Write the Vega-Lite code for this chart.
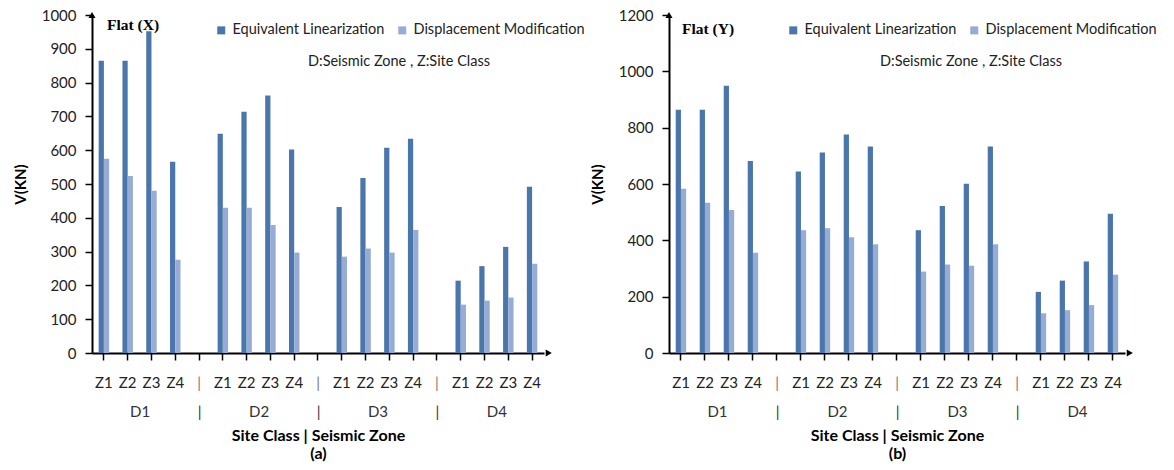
{
  "$schema": "https://vega.github.io/schema/vega-lite/v6.json",
  "padding": {"left": 13, "top": 8, "right": 5, "bottom": 5},
  "background": "white",
  "config": {
    "view": {"stroke": null},
    "axis": {"labelFont": "Lato", "labelFontSize": 15, "labelColor": "#222", "domainColor": "black", "domainWidth": 2, "tickColor": "black", "tickWidth": 1.5, "tickSize": 7, "grid": false, "titleFont": "Lato", "titleFontSize": 15, "titleFontWeight": "bold", "titleColor": "black", "labelOverlap": false},
    "legend": {"labelFont": "Lato", "labelFontSize": 14.5, "labelColor": "#222", "titleFont": "Lato", "titleFontSize": 14.5, "titleFontWeight": "normal", "titleColor": "#222", "titleLimit": 500, "labelLimit": 400},
    "title": {"font": "Liberation Serif", "fontSize": 15.5, "fontWeight": "bold", "color": "black"}
  },
  "datasets": {
    "bars": [
      {"p":"a","slot":"D1|Z1","s":"Equivalent Linearization","v":865},
      {"p":"a","slot":"D1|Z2","s":"Equivalent Linearization","v":865},
      {"p":"a","slot":"D1|Z3","s":"Equivalent Linearization","v":952},
      {"p":"a","slot":"D1|Z4","s":"Equivalent Linearization","v":566},
      {"p":"a","slot":"D2|Z1","s":"Equivalent Linearization","v":649},
      {"p":"a","slot":"D2|Z2","s":"Equivalent Linearization","v":714},
      {"p":"a","slot":"D2|Z3","s":"Equivalent Linearization","v":762},
      {"p":"a","slot":"D2|Z4","s":"Equivalent Linearization","v":602},
      {"p":"a","slot":"D3|Z1","s":"Equivalent Linearization","v":432},
      {"p":"a","slot":"D3|Z2","s":"Equivalent Linearization","v":518},
      {"p":"a","slot":"D3|Z3","s":"Equivalent Linearization","v":607},
      {"p":"a","slot":"D3|Z4","s":"Equivalent Linearization","v":634},
      {"p":"a","slot":"D4|Z1","s":"Equivalent Linearization","v":214},
      {"p":"a","slot":"D4|Z2","s":"Equivalent Linearization","v":257},
      {"p":"a","slot":"D4|Z3","s":"Equivalent Linearization","v":314},
      {"p":"a","slot":"D4|Z4","s":"Equivalent Linearization","v":492},
      {"p":"a","slot":"D1|Z1","s":"Displacement Modification","v":575},
      {"p":"a","slot":"D1|Z2","s":"Displacement Modification","v":524},
      {"p":"a","slot":"D1|Z3","s":"Displacement Modification","v":480},
      {"p":"a","slot":"D1|Z4","s":"Displacement Modification","v":276},
      {"p":"a","slot":"D2|Z1","s":"Displacement Modification","v":430},
      {"p":"a","slot":"D2|Z2","s":"Displacement Modification","v":430},
      {"p":"a","slot":"D2|Z3","s":"Displacement Modification","v":379},
      {"p":"a","slot":"D2|Z4","s":"Displacement Modification","v":297},
      {"p":"a","slot":"D3|Z1","s":"Displacement Modification","v":285},
      {"p":"a","slot":"D3|Z2","s":"Displacement Modification","v":309},
      {"p":"a","slot":"D3|Z3","s":"Displacement Modification","v":297},
      {"p":"a","slot":"D3|Z4","s":"Displacement Modification","v":364},
      {"p":"a","slot":"D4|Z1","s":"Displacement Modification","v":143},
      {"p":"a","slot":"D4|Z2","s":"Displacement Modification","v":155},
      {"p":"a","slot":"D4|Z3","s":"Displacement Modification","v":164},
      {"p":"a","slot":"D4|Z4","s":"Displacement Modification","v":264},
      {"p":"b","slot":"D1|Z1","s":"Equivalent Linearization","v":864},
      {"p":"b","slot":"D1|Z2","s":"Equivalent Linearization","v":864},
      {"p":"b","slot":"D1|Z3","s":"Equivalent Linearization","v":949},
      {"p":"b","slot":"D1|Z4","s":"Equivalent Linearization","v":682},
      {"p":"b","slot":"D2|Z1","s":"Equivalent Linearization","v":644},
      {"p":"b","slot":"D2|Z2","s":"Equivalent Linearization","v":712},
      {"p":"b","slot":"D2|Z3","s":"Equivalent Linearization","v":776},
      {"p":"b","slot":"D2|Z4","s":"Equivalent Linearization","v":733},
      {"p":"b","slot":"D3|Z1","s":"Equivalent Linearization","v":436},
      {"p":"b","slot":"D3|Z2","s":"Equivalent Linearization","v":522},
      {"p":"b","slot":"D3|Z3","s":"Equivalent Linearization","v":601},
      {"p":"b","slot":"D3|Z4","s":"Equivalent Linearization","v":733},
      {"p":"b","slot":"D4|Z1","s":"Equivalent Linearization","v":217},
      {"p":"b","slot":"D4|Z2","s":"Equivalent Linearization","v":257},
      {"p":"b","slot":"D4|Z3","s":"Equivalent Linearization","v":325},
      {"p":"b","slot":"D4|Z4","s":"Equivalent Linearization","v":494},
      {"p":"b","slot":"D1|Z1","s":"Displacement Modification","v":583},
      {"p":"b","slot":"D1|Z2","s":"Displacement Modification","v":533},
      {"p":"b","slot":"D1|Z3","s":"Displacement Modification","v":508},
      {"p":"b","slot":"D1|Z4","s":"Displacement Modification","v":356},
      {"p":"b","slot":"D2|Z1","s":"Displacement Modification","v":436},
      {"p":"b","slot":"D2|Z2","s":"Displacement Modification","v":443},
      {"p":"b","slot":"D2|Z3","s":"Displacement Modification","v":411},
      {"p":"b","slot":"D2|Z4","s":"Displacement Modification","v":386},
      {"p":"b","slot":"D3|Z1","s":"Displacement Modification","v":289},
      {"p":"b","slot":"D3|Z2","s":"Displacement Modification","v":314},
      {"p":"b","slot":"D3|Z3","s":"Displacement Modification","v":310},
      {"p":"b","slot":"D3|Z4","s":"Displacement Modification","v":386},
      {"p":"b","slot":"D4|Z1","s":"Displacement Modification","v":141},
      {"p":"b","slot":"D4|Z2","s":"Displacement Modification","v":152},
      {"p":"b","slot":"D4|Z3","s":"Displacement Modification","v":170},
      {"p":"b","slot":"D4|Z4","s":"Displacement Modification","v":278}
    ],
    "arrowsA": [{"pos": 0, "v": 1000, "dir": "up"}, {"pos": 19.2, "v": 0, "dir": "right"}],
    "arrowsB": [{"pos": 0, "v": 1200, "dir": "up"}, {"pos": 19.2, "v": 0, "dir": "right"}]
  },
  "hconcat": [
    {
      "width": 452,
      "height": 338,
      "title": {"text": "Flat (X)", "anchor": "start", "frame": "group", "offset": 0, "dx": 15, "dy": 25},
      "layer": [
        {
          "data": {"name": "bars"},
          "transform": [{"filter": "datum.p == 'a'"}],
          "mark": {"type": "bar"},
          "encoding": {
            "x": {"field": "slot", "type": "nominal",
              "scale": {"domain": ["D1|Z1","D1|Z2","D1|Z3","D1|Z4","s1","D2|Z1","D2|Z2","D2|Z3","D2|Z4","s2","D3|Z1","D3|Z2","D3|Z3","D3|Z4","s3","D4|Z1","D4|Z2","D4|Z3","D4|Z4"], "paddingInner": 0.56, "paddingOuter": 0.28},
              "axis": {"orient": "bottom", "title": null, "labelAngle": 0, "labelPadding": 15, "labelExpr": "indexof(datum.value, '|') >= 0 ? split(datum.value, '|')[1] : '|'", "labelColor": {"condition": {"test": "indexof(datum.value, '|') < 0", "value": "#777"}, "value": "#222"}}},
            "xOffset": {"field": "s", "type": "nominal", "scale": {"domain": ["Equivalent Linearization", "Displacement Modification"], "paddingInner": 0}},
            "y": {"field": "v", "type": "quantitative", "scale": {"domain": [0, 1000], "nice": false},
              "axis": {"title": "V(KN)", "values": [0,100,200,300,400,500,600,700,800,900,1000], "format": "d", "labelOverlap": false, "labelPadding": 9, "titlePadding": 13}},
            "color": {"field": "s", "type": "nominal",
              "scale": {"domain": ["Equivalent Linearization", "Displacement Modification"], "range": ["#4a76ab", "#97acd5"]},
              "legend": {"title": "D:Seismic Zone , Z:Site Class", "orient": "none", "legendX": 122, "legendY": 8, "direction": "horizontal", "symbolType": "square", "symbolSize": 64, "columnPadding": 10, "titleOrient": "bottom", "titleAnchor": "middle", "titlePadding": 18}}
          }
        },
        {
          "data": {"name": "arrowsA"},
          "mark": {"type": "point", "filled": true, "color": "black", "opacity": 1, "size": 50},
          "encoding": {
            "x": {"field": "pos", "type": "quantitative", "scale": {"domain": [0, 19], "nice": false, "zero": false},
              "axis": {"orient": "bottom", "offset": 47, "domain": false, "ticks": false, "values": [2, 4.5, 7, 9.5, 12, 14.5, 17], "labelPadding": 4, "labelExpr": "datum.value == 2 ? 'D1' : datum.value == 7 ? 'D2' : datum.value == 12 ? 'D3' : datum.value == 17 ? 'D4' : '|'", "labelColor": "#333", "title": ["Site Class | Seismic Zone", "(a)"], "titleFontSize": 16, "titlePadding": 8}},
            "y": {"field": "v", "type": "quantitative",
              "axis": {"title": "V(KN)", "values": [0,100,200,300,400,500,600,700,800,900,1000], "format": "d", "labelOverlap": false, "labelPadding": 9, "titlePadding": 13}},
            "shape": {"field": "dir", "type": "nominal", "scale": {"domain": ["up", "right"], "range": ["triangle-up", "triangle-right"]}, "legend": null}
          }
        }
      ],
      "resolve": {"scale": {"x": "independent"}, "axis": {"x": "independent"}}
    },
    {
      "width": 456,
      "height": 338,
      "title": {"text": "Flat (Y)", "anchor": "start", "frame": "group", "offset": 0, "dx": 13, "dy": 29},
      "layer": [
        {
          "data": {"name": "bars"},
          "transform": [{"filter": "datum.p == 'b'"}],
          "mark": {"type": "bar"},
          "encoding": {
            "x": {"field": "slot", "type": "nominal",
              "scale": {"domain": ["D1|Z1","D1|Z2","D1|Z3","D1|Z4","s1","D2|Z1","D2|Z2","D2|Z3","D2|Z4","s2","D3|Z1","D3|Z2","D3|Z3","D3|Z4","s3","D4|Z1","D4|Z2","D4|Z3","D4|Z4"], "paddingInner": 0.56, "paddingOuter": 0.28},
              "axis": {"orient": "bottom", "title": null, "labelAngle": 0, "labelPadding": 15, "labelExpr": "indexof(datum.value, '|') >= 0 ? split(datum.value, '|')[1] : '|'", "labelColor": {"condition": {"test": "indexof(datum.value, '|') < 0", "value": "#777"}, "value": "#222"}}},
            "xOffset": {"field": "s", "type": "nominal", "scale": {"domain": ["Equivalent Linearization", "Displacement Modification"], "paddingInner": 0}},
            "y": {"field": "v", "type": "quantitative", "scale": {"domain": [0, 1200], "nice": false},
              "axis": {"title": "V(KN)", "values": [0,200,400,600,800,1000,1200], "format": "d", "labelOverlap": false, "labelPadding": 9, "titlePadding": 13}},
            "color": {"field": "s", "type": "nominal",
              "scale": {"domain": ["Equivalent Linearization", "Displacement Modification"], "range": ["#4a76ab", "#97acd5"]},
              "legend": {"title": "D:Seismic Zone , Z:Site Class", "orient": "none", "legendX": 117, "legendY": 8, "direction": "horizontal", "symbolType": "square", "symbolSize": 64, "columnPadding": 10, "titleOrient": "bottom", "titleAnchor": "middle", "titlePadding": 18}}
          }
        },
        {
          "data": {"name": "arrowsB"},
          "mark": {"type": "point", "filled": true, "color": "black", "opacity": 1, "size": 50},
          "encoding": {
            "x": {"field": "pos", "type": "quantitative", "scale": {"domain": [0, 19], "nice": false, "zero": false},
              "axis": {"orient": "bottom", "offset": 47, "domain": false, "ticks": false, "values": [2, 4.5, 7, 9.5, 12, 14.5, 17], "labelPadding": 4, "labelExpr": "datum.value == 2 ? 'D1' : datum.value == 7 ? 'D2' : datum.value == 12 ? 'D3' : datum.value == 17 ? 'D4' : '|'", "labelColor": "#333", "title": ["Site Class | Seismic Zone", "(b)"], "titleFontSize": 16, "titlePadding": 8}},
            "y": {"field": "v", "type": "quantitative",
              "axis": {"title": "V(KN)", "values": [0,200,400,600,800,1000,1200], "format": "d", "labelOverlap": false, "labelPadding": 9, "titlePadding": 13}},
            "shape": {"field": "dir", "type": "nominal", "scale": {"domain": ["up", "right"], "range": ["triangle-up", "triangle-right"]}, "legend": null}
          }
        }
      ],
      "resolve": {"scale": {"x": "independent"}, "axis": {"x": "independent"}}
    }
  ],
  "bounds": "flush",
  "spacing": 125,
  "resolve": {"scale": {"color": "independent"}, "legend": {"color": "independent"}}
}
